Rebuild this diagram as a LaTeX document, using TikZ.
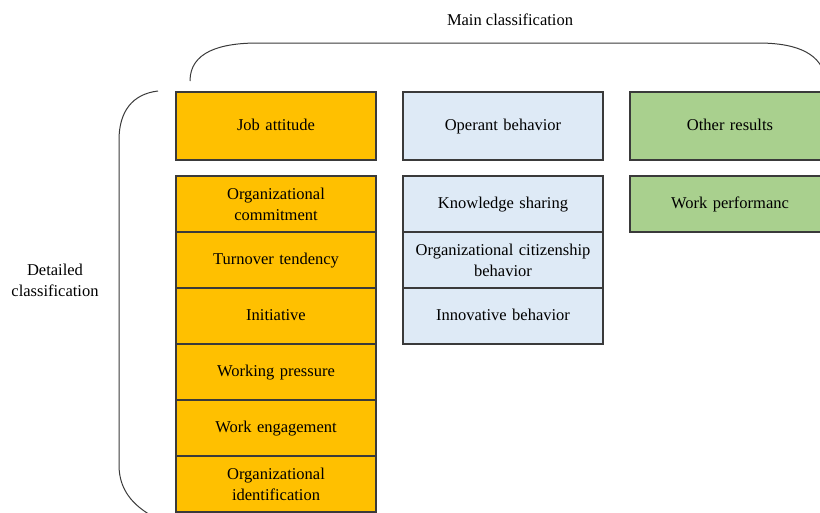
\documentclass[tikz,border=0pt]{standalone}
\usepackage{fontspec}
\setmainfont{Liberation Serif}
\usepackage{tikz}
\usetikzlibrary{positioning}

\definecolor{jobcol}{HTML}{FFC000}
\definecolor{opcol}{HTML}{DEEAF6}
\definecolor{rescol}{HTML}{A9D08E}
\definecolor{edgecol}{HTML}{3A3A3A}

\begin{document}
\begin{tikzpicture}[x=1pt,y=-1pt,
  every node/.style={font=\fontsize{16.5}{21}\selectfont},
  box/.style={draw=edgecol,line width=1.3pt,minimum width=200pt,minimum height=56pt,
    text width=196pt,align=center,inner sep=0pt,outer sep=0pt},
  head/.style={box,minimum height=68pt}]

\useasboundingbox (0,0) rectangle (820,512);

\node[head,fill=jobcol] (job) at (276,126) {\strut Job attitude};

\node[head,fill=opcol] (oper) at (503,126) {\strut Operant behavior};

\node[head,fill=rescol] (other) at (730,126) {\strut Other results};

\node[box,fill=jobcol] (commit) at (276,204) {Organizational\\commitment};
\node[box,fill=jobcol,below=0pt of commit] (turn) {\strut Turnover tendency};
\node[box,fill=jobcol,below=0pt of turn] (init) {\strut Initiative};
\node[box,fill=jobcol,below=0pt of init] (press) {\strut Working pressure};
\node[box,fill=jobcol,below=0pt of press] (engage) {\strut Work engagement};
\node[box,fill=jobcol,below=0pt of engage] (ident) {Organizational\\identification};

\node[box,fill=opcol] (know) at (503,204) {\strut Knowledge sharing};
\node[box,fill=opcol,below=0pt of know] (citiz) {Organizational citizenship\\behavior};
\node[box,fill=opcol,below=0pt of citiz] (innov) {\strut Innovative behavior};

\node[box,fill=rescol] (perf) at (730,204) {\strut Work performanc};

\node (main) at (510,20) {Main classification};

\node[align=center] (detail) at (55,280) {Detailed\\classification};

\draw[edgecol,line width=1pt] (190,81) .. controls (190,52) and (220,43) .. (258,43) -- (758,43)
  .. controls (800,43) and (822,55) .. (826,80);

\draw[edgecol,line width=1pt] (158,91) .. controls (132,94) and (119,112) .. (119,140) -- (119,465)
  .. controls (119,490) and (133,505) .. (152,516);

\end{tikzpicture}
\end{document}
